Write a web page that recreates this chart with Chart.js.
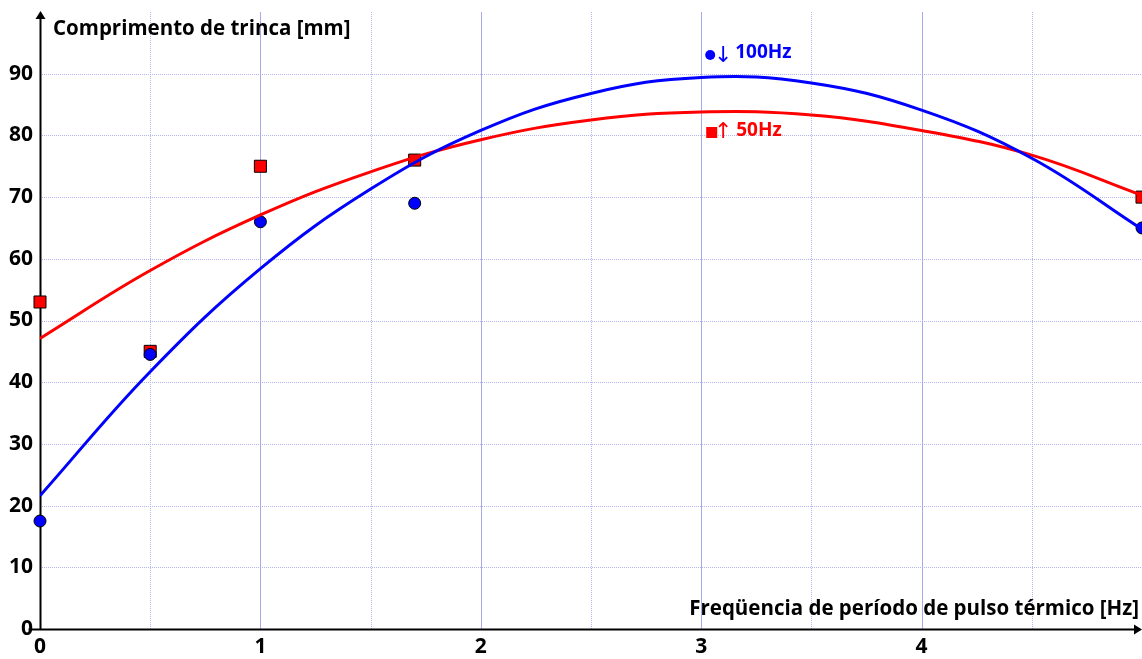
<!DOCTYPE html>
<html>
<head>
<meta charset="utf-8">
<style>
  html, body { margin: 0; padding: 0; background: #fff; }
  #wrap { width: 1142px; height: 659px; }
</style>
</head>
<body>
<div id="wrap"><canvas id="chart"></canvas></div>
<script src="https://cdn.jsdelivr.net/npm/chart.js@4/dist/chart.umd.min.js"></script>
<script>
// measured points
var freq = [0, 0.5, 1, 1.7, 5];
var len100 = [17.5, 44.5, 66, 69, 65];
var len50 = [53, 45, 75, 76, 70];

// trend curves
var fitX = [0, 0.5, 1, 1.5, 2, 2.5, 3, 3.5, 4, 4.5, 5];
var fit100 = [21.6, 41.7, 58.4, 71.3, 80.8, 86.8, 89.4, 88.5, 84.1, 76.3, 64.8];
var fit50 = [47.1, 58.1, 67.1, 74.1, 79.3, 82.5, 83.8, 83.3, 80.8, 76.8, 70.3];

var yTicks = [0, 10, 20, 30, 40, 50, 60, 70, 80, 90];
var xTicks = [0, 1, 2, 3, 4];

var FONT = '"Open Sans", Lato, sans-serif';

function pts(xs, ys) {
  return xs.map(function (x, i) { return { x: x, y: ys[i] }; });
}

var decor = {
  id: 'decor',
  beforeDatasetsDraw: function (chart) {
    var ctx = chart.ctx, a = chart.chartArea;
    var sx = chart.scales.x, sy = chart.scales.y;
    ctx.save();
    // horizontal dotted grid
    ctx.strokeStyle = '#b4b4f0';
    ctx.lineWidth = 1;
    ctx.setLineDash([1, 1]);
    for (var v = 10; v < 100; v += 10) {
      var py = Math.round(sy.getPixelForValue(v)) + 0.5;
      ctx.beginPath(); ctx.moveTo(a.left, py); ctx.lineTo(a.right, py); ctx.stroke();
    }
    // vertical grid: dotted halves, solid integers
    for (var x = 0.5; x < 5; x += 0.5) {
      var px = Math.round(sx.getPixelForValue(x)) + 0.5;
      if (x % 1 === 0) { ctx.setLineDash([]); ctx.strokeStyle = '#a8a8ee'; }
      else { ctx.setLineDash([1, 1]); ctx.strokeStyle = '#b4b4f0'; }
      ctx.beginPath(); ctx.moveTo(px, a.top); ctx.lineTo(px, a.bottom); ctx.stroke();
    }
    ctx.setLineDash([]);
    // axes with arrows
    var x0 = Math.round(sx.getPixelForValue(0)) + 0.5;
    var y0 = Math.round(sy.getPixelForValue(0)) + 0.5;
    ctx.strokeStyle = '#000';
    ctx.fillStyle = '#000';
    ctx.lineWidth = 2;
    ctx.beginPath(); ctx.moveTo(x0, y0); ctx.lineTo(x0, a.top + 4); ctx.stroke();
    ctx.beginPath(); ctx.moveTo(x0 - 12, y0); ctx.lineTo(a.right - 4, y0); ctx.stroke();
    ctx.beginPath();
    ctx.moveTo(x0, a.top - 1); ctx.lineTo(x0 - 5, a.top + 7); ctx.lineTo(x0 + 5, a.top + 7);
    ctx.closePath(); ctx.fill();
    ctx.beginPath();
    ctx.moveTo(a.right, y0); ctx.lineTo(a.right - 8, y0 - 5); ctx.lineTo(a.right - 8, y0 + 5);
    ctx.closePath(); ctx.fill();
    ctx.restore();
  },
  afterDatasetsDraw: function (chart) {
    var ctx = chart.ctx, a = chart.chartArea;
    var sx = chart.scales.x;
    ctx.save();
    ctx.textBaseline = 'middle';
    ctx.font = 'bold 20.5px ' + FONT;
    ctx.fillStyle = '#000';
    ctx.textAlign = 'left';
    ctx.fillText('Comprimento de trinca [mm]', 53, 29);
    ctx.textAlign = 'right';
    ctx.fillText('Freqüencia de período de pulso térmico [Hz]', a.right - 3, 609);
    // series labels
    var lx = sx.getPixelForValue(3);
    ctx.textAlign = 'left';
    ctx.fillStyle = '#0000ff';
    ctx.beginPath(); ctx.arc(lx + 9, 55, 5, 0, Math.PI * 2); ctx.fill();
    ctx.font = '22px "DejaVu Sans", sans-serif';
    ctx.textAlign = 'center';
    ctx.fillText('\u2193', lx + 22, 56);
    ctx.textAlign = 'left';
    ctx.font = 'bold 19px ' + FONT;
    ctx.fillText('100Hz', lx + 34, 53);
    ctx.fillStyle = '#ff0000';
    ctx.fillRect(lx + 5, 127, 11, 11);
    ctx.font = '22px "DejaVu Sans", sans-serif';
    ctx.textAlign = 'center';
    ctx.fillText('\u2191', lx + 22, 132);
    ctx.textAlign = 'left';
    ctx.font = 'bold 19px ' + FONT;
    ctx.fillText('50Hz', lx + 35, 131);
    ctx.restore();
  }
};

new Chart(document.getElementById('chart'), {
  type: 'scatter',
  data: {
    datasets: [
      { type: 'line', data: pts(fitX, fit100), borderColor: '#0000ff', borderWidth: 3,
        pointRadius: 0, tension: 0.4, fill: false, order: 1 },
      { type: 'line', data: pts(fitX, fit50), borderColor: '#ff0000', borderWidth: 3,
        pointRadius: 0, tension: 0.4, fill: false, order: 2 },
      { data: pts(freq, len100), pointStyle: 'circle', pointRadius: 6,
        backgroundColor: '#0000ff', borderColor: '#000', borderWidth: 1, clip: false, order: 3 },
      { data: pts(freq, len50), pointStyle: 'rect', pointRadius: 8.5,
        backgroundColor: '#ff0000', borderColor: '#000', borderWidth: 1, clip: false, order: 4 }
    ]
  },
  options: {
    responsive: true,
    maintainAspectRatio: false,
    animation: false,
    layout: { autoPadding: false, padding: { top: 12, right: 0, left: 0, bottom: 0 } },
    plugins: { legend: { display: false }, tooltip: { enabled: false } },
    scales: {
      x: {
        type: 'linear', min: 0, max: 5,
        afterFit: function (s) { s.height = 30; s.paddingLeft = 0; s.paddingRight = 0; },
        grid: { display: false, drawTicks: false },
        border: { display: false },
        afterBuildTicks: function (s) { s.ticks = xTicks.map(function (v) { return { value: v }; }); },
        ticks: { autoSkip: false, maxRotation: 0, padding: 5, color: '#000',
                 font: { family: FONT, size: 21, weight: 'bold' } }
      },
      y: {
        type: 'linear', min: 0, max: 100,
        afterFit: function (s) { s.width = 40; s.paddingTop = 0; s.paddingBottom = 0; },
        grid: { display: false, drawTicks: false },
        border: { display: false },
        afterBuildTicks: function (s) { s.ticks = yTicks.map(function (v) { return { value: v }; }); },
        ticks: { autoSkip: false, padding: 7, color: '#000',
                 font: { family: FONT, size: 21, weight: 'bold' } }
      }
    }
  },
  plugins: [decor]
});
</script>
</body>
</html>
